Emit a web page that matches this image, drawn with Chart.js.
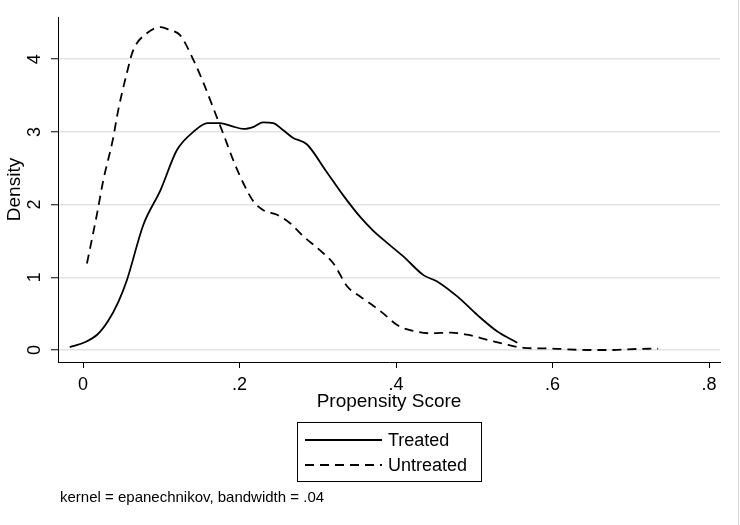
<!DOCTYPE html>
<html>
<head>
<meta charset="utf-8">
<script src="https://cdn.jsdelivr.net/npm/chart.js@4.4.1/dist/chart.umd.min.js"></script>
<style>
  html, body { margin: 0; padding: 0; background: #fff; }
  #wrap { width: 740px; height: 525px; }
</style>
</head>
<body>
<div id="wrap"><canvas id="densityChart" width="740" height="525"></canvas></div>
<script>
// Kernel density of the propensity score
const treatedX = [-0.017, 0.003, 0.018, 0.032, 0.045, 0.056, 0.077, 0.099, 0.12, 0.141, 0.159, 0.175, 0.19, 0.205, 0.218, 0.23, 0.243, 0.255, 0.268, 0.286, 0.31, 0.333, 0.355, 0.37, 0.389, 0.41, 0.435, 0.453, 0.479, 0.504, 0.53, 0.555];
const treatedY = [0.04, 0.11, 0.21, 0.40, 0.66, 0.96, 1.72, 2.2, 2.75, 3.0, 3.12, 3.12, 3.08, 3.04, 3.07, 3.13, 3.12, 3.03, 2.92, 2.83, 2.47, 2.12, 1.82, 1.65, 1.47, 1.28, 1.03, 0.94, 0.73, 0.48, 0.25, 0.10];

const untreatedX = [0.005, 0.018, 0.026, 0.038, 0.045, 0.056, 0.064, 0.082, 0.099, 0.111, 0.124, 0.141, 0.154, 0.166, 0.179, 0.192, 0.205, 0.218, 0.231, 0.248, 0.265, 0.282, 0.303, 0.32, 0.338, 0.355, 0.367, 0.384, 0.402, 0.419, 0.444, 0.47, 0.491, 0.517, 0.543, 0.563, 0.598, 0.645, 0.678, 0.696, 0.735];
const untreatedY = [1.19, 1.88, 2.34, 2.89, 3.30, 3.81, 4.12, 4.36, 4.44, 4.40, 4.33, 3.99, 3.67, 3.34, 2.98, 2.61, 2.29, 2.04, 1.92, 1.86, 1.74, 1.56, 1.37, 1.19, 0.87, 0.73, 0.64, 0.50, 0.34, 0.27, 0.23, 0.24, 0.21, 0.14, 0.07, 0.03, 0.02, 0.0, 0.0, 0.01, 0.02];

const seriesLabels = ['Treated', 'Untreated'];
const xTicks = [0, 0.2, 0.4, 0.6, 0.8];
const xTickLabels = ['0', '.2', '.4', '.6', '.8'];
const yTicks = [0, 1, 2, 3, 4];
const yTickLabels = ['0', '1', '2', '3', '4'];
const xTitle = 'Propensity Score';
const yTitle = 'Density';
const noteText = 'kernel = epanechnikov, bandwidth = .04';

const FONT = "'Liberation Sans', Arial, sans-serif";

function toPoints(xs, ys) {
    return xs.map((x, i) => ({ x: x, y: ys[i] }));
}

// Stata-like text: rotated y labels, axis titles, boxed legend, note
const stataText = {
    id: 'stataText',
    afterDraw(chart) {
        const ctx = chart.ctx;
        const area = chart.chartArea;
        const yScale = chart.scales.y;
        ctx.save();
        ctx.fillStyle = '#000';
        ctx.textAlign = 'center';
        ctx.textBaseline = 'middle';

        // y tick labels, turned on their side
        ctx.font = '18px ' + FONT;
        yTicks.forEach((v, i) => {
            ctx.save();
            ctx.translate(35, yScale.getPixelForValue(v));
            ctx.rotate(-Math.PI / 2);
            ctx.fillText(yTickLabels[i], 0, 0);
            ctx.restore();
        });

        // axis titles
        ctx.font = '19px ' + FONT;
        ctx.save();
        ctx.translate(15, (area.top + area.bottom) / 2);
        ctx.rotate(-Math.PI / 2);
        ctx.fillText(yTitle, 0, 0);
        ctx.restore();
        ctx.fillText(xTitle, (area.left + area.right) / 2, 402);

        // legend box
        ctx.strokeStyle = '#000';
        ctx.lineWidth = 1;
        ctx.strokeRect(297.5, 422.5, 184, 59);
        ctx.font = '18px ' + FONT;
        ctx.textAlign = 'left';
        chart.data.datasets.forEach((ds, i) => {
            const ly = 440 + i * 25;
            ctx.beginPath();
            ctx.setLineDash(ds.borderDash || []);
            ctx.lineWidth = ds.borderWidth;
            ctx.moveTo(305, ly);
            ctx.lineTo(382, ly);
            ctx.stroke();
            ctx.setLineDash([]);
            ctx.fillText(ds.label, 388, ly + 1);
        });

        // note
        ctx.font = '15px ' + FONT;
        ctx.fillText(noteText, 60, 498);

        // picture frame on the right
        ctx.strokeStyle = '#d6d6d6';
        ctx.lineWidth = 1;
        ctx.beginPath();
        ctx.moveTo(738.5, 0);
        ctx.lineTo(738.5, 525);
        ctx.stroke();
        ctx.restore();
    }
};

const ctx = document.getElementById('densityChart').getContext('2d');
const densityChart = new Chart(ctx, {
    type: 'scatter',
    data: {
        datasets: [{
            label: seriesLabels[0],
            data: toPoints(treatedX, treatedY),
            showLine: true,
            borderColor: '#000',
            borderWidth: 1.8,
            pointRadius: 0,
            cubicInterpolationMode: 'monotone',
            fill: false
        }, {
            label: seriesLabels[1],
            data: toPoints(untreatedX, untreatedY),
            showLine: true,
            borderColor: '#000',
            borderWidth: 1.8,
            borderDash: [9, 6],
            pointRadius: 0,
            cubicInterpolationMode: 'monotone',
            fill: false
        }]
    },
    options: {
        responsive: false,
        animation: false,
        devicePixelRatio: 1,
        layout: { padding: { left: 0, right: 20, top: 17, bottom: 0 } },
        plugins: {
            legend: { display: false },
            tooltip: { enabled: false }
        },
        scales: {
            x: {
                type: 'linear',
                min: -0.032,
                max: 0.814,
                afterBuildTicks: s => { s.ticks = xTicks.map(v => ({ value: v })); },
                afterFit: s => { s.height = 163; },
                ticks: {
                    autoSkip: false,
                    maxRotation: 0,
                    padding: 6,
                    color: '#000',
                    font: { family: FONT, size: 18 },
                    callback: v => xTickLabels[xTicks.indexOf(v)]
                },
                grid: {
                    drawOnChartArea: false,
                    drawTicks: true,
                    tickLength: 6,
                    tickColor: '#000',
                    tickWidth: 1
                },
                border: { color: '#000', width: 1 }
            },
            y: {
                type: 'linear',
                min: -0.165,
                max: 4.58,
                afterBuildTicks: s => { s.ticks = yTicks.map(v => ({ value: v })); },
                afterFit: s => { s.width = 58; },
                ticks: { display: false },
                grid: {
                    color: '#e3e3e3',
                    lineWidth: 1.5,
                    drawTicks: true,
                    tickLength: 7,
                    tickColor: '#000',
                    tickWidth: 1
                },
                border: { color: '#000', width: 1 }
            }
        }
    },
    plugins: [stataText]
});
</script>
</body>
</html>
